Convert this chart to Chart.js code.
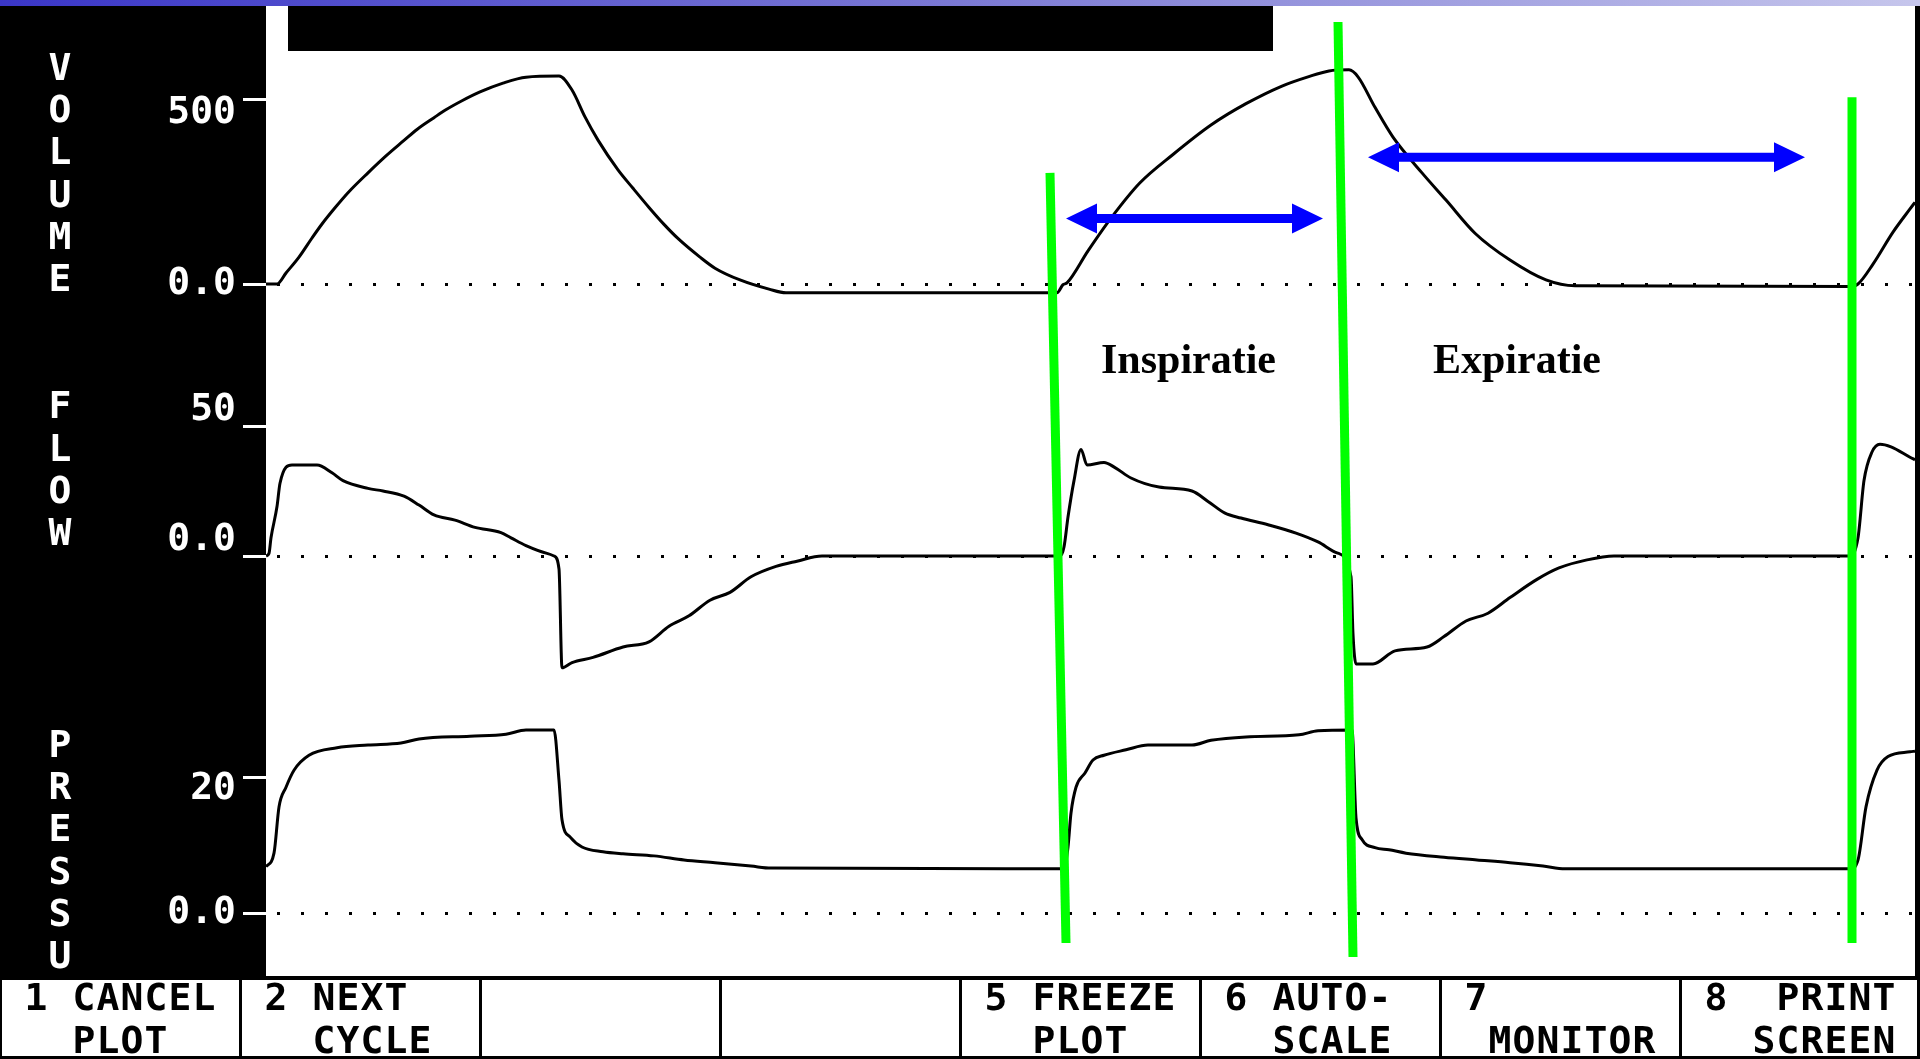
<!DOCTYPE html>
<html>
<head>
<meta charset="utf-8">
<title>Ventilator curves</title>
<script src="https://cdn.jsdelivr.net/npm/chart.js@4.4.1/dist/chart.umd.min.js"></script>
<style>
    html, body { margin: 0; padding: 0; background: #000; overflow: hidden; }
    #wrap { position: relative; width: 1920px; height: 1059px; }
</style>
</head>
<body>
<div id="wrap"><canvas id="scope"></canvas></div>
<script>
/* ========================================================================
   Ventilator screen: volume / flow / pressure against time (s)
   ======================================================================== */

// volume (mL)
const volT = [0, 0.055, 0.10, 0.165, 0.23, 0.28, 0.345, 0.41, 0.51, 0.60, 0.69, 0.755, 0.84, 0.895, 0.98, 1.07, 1.185, 1.30, 1.465,
    1.53, 1.595, 1.66, 1.76, 1.835, 1.915, 1.99, 2.065, 2.17, 2.245, 2.37, 2.515, 2.60, 3.955, 3.985, 4.005, 4.11, 4.225, 4.37, 4.535,
    4.725, 4.90, 5.08, 5.21, 5.315, 5.415, 5.46, 5.545, 5.635, 5.78, 5.90, 6.045, 6.22, 6.40, 6.545, 7.92, 7.96, 8.035, 8.135, 8.22, 8.245];
const volV = [0, 0, 30, 73, 125, 163, 207, 248, 302, 348, 390, 420, 452, 472, 498, 522, 546, 562, 565,
    527, 454, 391, 310, 260, 208, 162, 121, 73, 43, 11, -14, -24, -24, -2, 3, 90, 179, 275, 352,
    432, 490, 538, 563, 579, 582, 563, 480, 399, 302, 228, 138, 65, 11, -5, -7, 0, 54, 141, 204, 222];

// flow (L/min)
const flowT = [0, 0.015, 0.025, 0.055, 0.07, 0.13, 0.18, 0.255, 0.33, 0.385, 0.51, 0.585, 0.69, 0.765, 0.84, 0.945, 1.045, 1.175, 1.225, 1.30,
    1.405, 1.44, 1.465, 1.48, 1.53, 1.635, 1.785, 1.915, 2.015, 2.115, 2.22, 2.32, 2.425, 2.55, 2.655, 2.78, 3.97, 3.99, 4.01, 4.04,
    4.075, 4.105, 4.19, 4.245, 4.325, 4.465, 4.63, 4.71, 4.795, 4.875, 5.01, 5.15, 5.26, 5.355, 5.425, 5.435, 5.45, 5.535, 5.645, 5.805,
    5.89, 6.00, 6.11, 6.22, 6.355, 6.465, 6.605, 6.74, 7.92, 7.96, 7.99, 8.03, 8.07, 8.125, 8.22, 8.245];
const flowV = [0, 1, 7, 19, 28, 35, 35, 35, 32, 29, 26, 25, 23, 19.6, 15.8, 13.8, 11, 9, 7, 4,
    1, 0, -5, -43, -41, -39, -35, -33, -27, -23, -17, -14, -8, -4, -2, 0, 0, 3.5, 15, 29,
    41, 35, 36, 34, 30, 26.5, 25, 21, 16.5, 14.6, 12, 8.8, 5.4, 1.2, -8, -30, -41.5, -41.5, -36.5, -35,
    -31, -25, -22, -16, -9, -4.6, -1.5, 0, 0, 7, 29, 40, 43, 42, 38, 37];

// pressure (cmH2O)
const presT = [0, 0.04, 0.065, 0.10, 0.14, 0.215, 0.355, 0.51, 0.675, 0.765, 1.02, 1.20, 1.30, 1.44, 1.465, 1.48, 1.52, 1.58, 1.685, 1.785,
    1.94, 2.09, 2.245, 2.425, 2.525, 3.99, 4.01, 4.025, 4.05, 4.095, 4.135, 4.19, 4.30, 4.41, 4.63, 4.725, 4.90, 5.165, 5.26, 5.43,
    5.45, 5.48, 5.545, 5.615, 5.70, 5.89, 6.055, 6.22, 6.385, 6.495, 7.92, 7.96, 8.00, 8.055, 8.11, 8.22, 8.245];
const presV = [6.8, 8.8, 15.6, 18.5, 21, 23.2, 24.3, 24.7, 25, 25.6, 26, 26.3, 26.9, 26.9, 19.5, 13.7, 11.2, 9.7, 9, 8.7,
    8.4, 7.8, 7.4, 6.9, 6.6, 6.5, 9.7, 14.7, 18.5, 20.6, 22.5, 23.2, 24, 24.7, 24.7, 25.4, 25.9, 26.2, 26.8, 26.9,
    14, 10.8, 9.6, 9.3, 8.8, 8.2, 7.8, 7.4, 6.9, 6.5, 6.5, 7.8, 15.6, 21, 23, 23.7, 23.8];

const volTicks = [0, 500];
const flowTicks = [0, 50];
const presTicks = [0, 20];
const volLabels = ['0.0', ['', '500']];
const flowLabels = [['0.0', ''], ['50', '']];
const presLabels = ['0.0', ['', '20']];

// hand-drawn marks: phase lines (time at top / bottom, height in % of plot)
const markT = [[3.92, 4.00], [5.36, 5.435], [7.93, 7.93]];
const markH = [[82.8, 3.4], [98.35, 1.96], [90.6, 3.4]];
const arrowT = [[4.00, 5.285], [5.51, 7.695]];
const arrowH = [78.1, 84.4];
const phaseNames = ['Inspiratie', 'Expiratie'];
const phaseNameT = [4.175, 5.835];
const phaseNameH = 62.2;

const axisNames = ['VOLUME', 'FLOW', 'PRESSU'];
const axisNameRow = [0, 8, 16];
const keyLabels = [
    [' 1 CANCEL', '   PLOT'], [' 2 NEXT', '   CYCLE'], ['', ''], ['', ''],
    [' 5 FREEZE', '   PLOT'], [' 6 AUTO-', '   SCALE'], [' 7', '  MONITOR'], [' 8  PRINT', '   SCREEN']
];

// screen layout (px)
const T_END = 8.245;
const PLOT = { left: 266, top: 6, right: 1915, bottom: 976 };
const ZERO = { vol: 284, flow: 556, pres: 913 };
const TOPTICK = { vol: 100, flow: 426, pres: 777 };
const LABEL_RIGHT = 236;
const MONO = '"DejaVu Sans Mono", monospace';
const MONO_FONT = 'bold 38px ' + MONO;
const COL = 24, ROW0 = 70, ROW = 42.3;
const rowY = r => ROW0 + r * ROW;

const measure = document.createElement('canvas').getContext('2d');
measure.font = MONO_FONT;
const labelW = measure.measureText('0.0').width;

function bandRange(key, topVal) {
    const ppu = (ZERO[key] - TOPTICK[key]) / topVal;
    return { min: -(PLOT.bottom - ZERO[key]) / ppu, max: (ZERO[key] - PLOT.top) / ppu };
}

// labels are mirrored (so they are not clipped to the zero-width axis box) and pushed back left
function waveAxis(key, ticks, labels, lineH) {
    const r = bandRange(key, ticks[1]);
    return {
        type: 'linear', position: 'left', min: r.min, max: r.max,
        afterBuildTicks: s => { s.ticks = ticks.map(v => ({ value: v })); },
        afterFit: s => { s.width = 0; s.paddingTop = 0; s.paddingBottom = 0; },
        ticks: {
            autoSkip: false, color: '#fff', mirror: true, crossAlign: 'far',
            padding: LABEL_RIGHT - PLOT.left - labelW,
            font: { family: MONO, size: 38, weight: 'bold', lineHeight: lineH },
            callback: v => labels[ticks.indexOf(v)]
        },
        grid: {
            drawOnChartArea: true, lineWidth: 3,
            color: c => (c.tick && c.tick.value === 0) ? '#000' : 'rgba(0,0,0,0)',
            tickLength: 23, tickWidth: 3, tickColor: '#fff', tickBorderDash: []
        },
        border: { display: false, dash: [3, 21], dashOffset: 13 }
    };
}

const trace = (T, V, axis) => ({
    data: T.map((t, i) => ({ x: t, y: V[i] })),
    yAxisID: axis, borderColor: '#000', borderWidth: 3, pointRadius: 0,
    cubicInterpolationMode: 'monotone', order: 2
});

const marks = markT.map((t, i) => ({
    data: [{ x: t[0], y: markH[i][0] }, { x: t[1], y: markH[i][1] }],
    yAxisID: 'ov', borderColor: '#00ff00', borderWidth: 9, borderCapStyle: 'butt', pointRadius: 0, order: 1
}));

function drawArrow(ctx, x1, x2, y) {
    const head = 31, half = 15, shaft = 4.5;
    ctx.beginPath();
    ctx.moveTo(x1, y);
    ctx.lineTo(x1 + head, y - half);
    ctx.lineTo(x1 + head, y - shaft);
    ctx.lineTo(x2 - head, y - shaft);
    ctx.lineTo(x2 - head, y - half);
    ctx.lineTo(x2, y);
    ctx.lineTo(x2 - head, y + half);
    ctx.lineTo(x2 - head, y + shaft);
    ctx.lineTo(x1 + head, y + shaft);
    ctx.lineTo(x1 + head, y + half);
    ctx.closePath();
    ctx.fill();
}

const screenPlugin = {
    id: 'screen',
    beforeDraw(chart) {
        const ctx = chart.ctx;
        ctx.save();
        ctx.fillStyle = '#000';
        ctx.fillRect(0, 0, 1920, 1059);
        ctx.fillStyle = '#fff';
        ctx.fillRect(PLOT.left, PLOT.top, PLOT.right - PLOT.left, PLOT.bottom - PLOT.top);
        const g = ctx.createLinearGradient(0, 0, 1920, 0);
        g.addColorStop(0, '#3a36c8');
        g.addColorStop(0.5, '#7b79d4');
        g.addColorStop(1, '#c6c6ec');
        ctx.fillStyle = g;
        ctx.fillRect(0, 0, 1920, 6);
        ctx.fillStyle = '#000';
        ctx.fillRect(288, 6, 985, 45);
        // key bar
        ctx.fillStyle = '#fff';
        ctx.fillRect(0, 976, 1920, 83);
        ctx.fillStyle = '#000';
        ctx.fillRect(0, 976, 1920, 4);
        ctx.fillRect(0, 1056, 1920, 3);
        ctx.fillRect(0, 976, 2, 83);
        ctx.fillRect(1917, 976, 3, 83);
        for (let k = 1; k < 8; k++) ctx.fillRect(k * 240 - 1, 976, 3, 83);
        ctx.restore();
    },
    afterDatasetsDraw(chart) {
        const ctx = chart.ctx, xs = chart.scales.x, ov = chart.scales.ov;
        ctx.save();
        ctx.fillStyle = '#0000ff';
        arrowT.forEach((t, i) => drawArrow(ctx, xs.getPixelForValue(t[0]), xs.getPixelForValue(t[1]), ov.getPixelForValue(arrowH[i])));
        ctx.fillStyle = '#000';
        ctx.font = 'bold 42px "Liberation Serif", "Times New Roman", serif';
        ctx.textAlign = 'left';
        ctx.textBaseline = 'alphabetic';
        phaseNames.forEach((n, i) => ctx.fillText(n, xs.getPixelForValue(phaseNameT[i]), ov.getPixelForValue(phaseNameH)));
        ctx.restore();
    },
    afterDraw(chart) {
        const ctx = chart.ctx;
        ctx.save();
        ctx.font = MONO_FONT;
        ctx.textAlign = 'center';
        ctx.textBaseline = 'middle';
        ctx.fillStyle = '#fff';
        axisNames.forEach((name, i) => {
            [...name].forEach((ch, j) => ctx.fillText(ch, 2.5 * COL, rowY(axisNameRow[i] + j)));
        });
        ctx.fillStyle = '#000';
        keyLabels.forEach((lines, b) => {
            lines.forEach((line, r) => {
                [...line].forEach((ch, c) => {
                    if (ch !== ' ') ctx.fillText(ch, (b * 10 + c + 0.5) * COL, rowY(22 + r));
                });
            });
        });
        ctx.restore();
    }
};

new Chart(document.getElementById('scope'), {
    type: 'line',
    data: {
        datasets: [
            ...marks,
            trace(volT, volV, 'vol'),
            trace(flowT, flowV, 'flow'),
            trace(presT, presV, 'pres')
        ]
    },
    options: {
        responsive: true, maintainAspectRatio: false, animation: false,
        layout: { autoPadding: false, padding: { left: PLOT.left, top: PLOT.top, right: 1920 - PLOT.right, bottom: 1059 - PLOT.bottom } },
        plugins: { legend: { display: false }, tooltip: { enabled: false } },
        scales: {
            x: { type: 'linear', min: 0, max: T_END, display: false },
            vol: waveAxis('vol', volTicks, volLabels, 26 / 38),
            flow: waveAxis('flow', flowTicks, flowLabels, 32 / 38),
            pres: waveAxis('pres', presTicks, presLabels, 24 / 38),
            ov: { type: 'linear', min: 0, max: 100, display: false }
        }
    },
    plugins: [screenPlugin]
});
</script>
</body>
</html>
